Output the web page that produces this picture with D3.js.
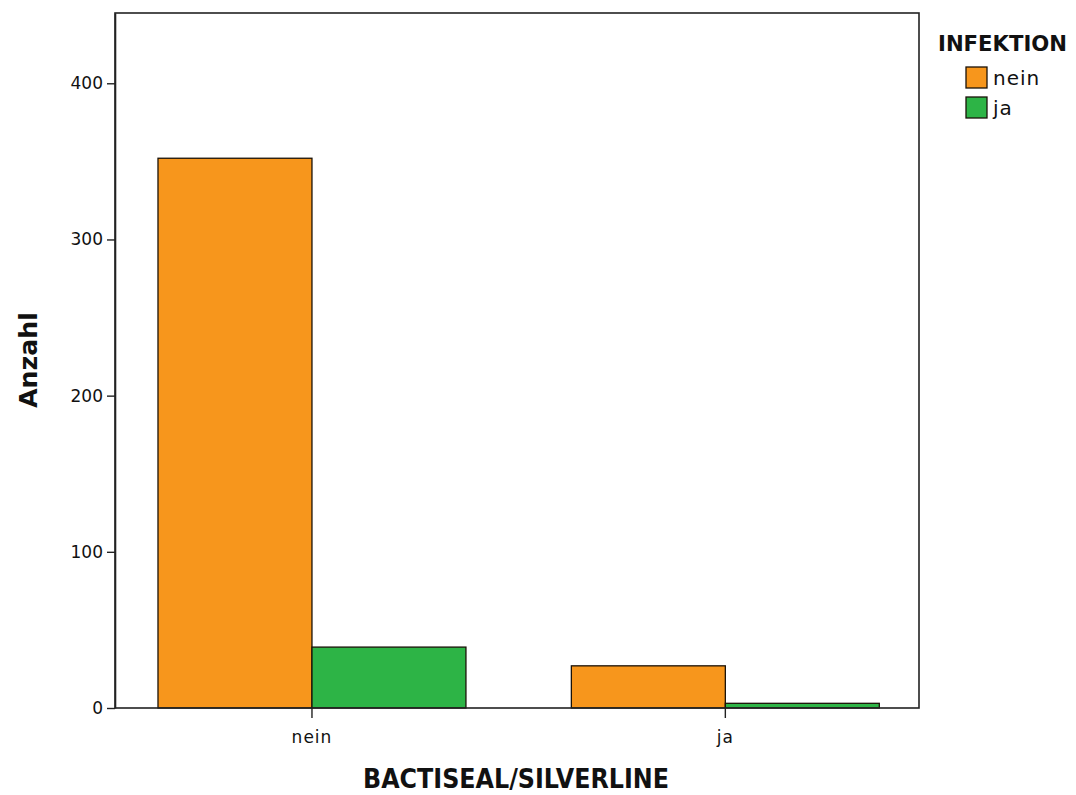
<!DOCTYPE html>
<html>
<head>
<meta charset="utf-8">
<script src="https://cdn.jsdelivr.net/npm/d3@7/dist/d3.min.js"></script>
<style>
  html, body { margin: 0; padding: 0; background: #fff; }
  svg { display: block; }
</style>
</head>
<body>
<svg id="chart" width="1076" height="795"></svg>
<script>
// Categories on the x axis (BACTISEAL/SILVERLINE) and the grouping (INFEKTION)
const categories = ["nein", "ja"];
const groups = ["nein", "ja"];
// Counts per category, one array per infection group
const countsInfektionNein = [352, 27];
const countsInfektionJa = [39, 3];
const yTicks = [0, 100, 200, 300, 400];
const groupColors = ["#F7961C", "#2DB446"];

const svg = d3.select("#chart");
const frame = { left: 115, right: 919, top: 13, bottom: 708 };

const x = d3.scaleBand()
  .domain(categories)
  .range([frame.left, frame.right])
  .paddingInner(0.255)
  .paddingOuter(0.1)
  .align(0.52);

const xSub = d3.scaleBand()
  .domain(groups)
  .range([0, x.bandwidth()]);

const y = d3.scaleLinear()
  .domain([0, 445])
  .range([frame.bottom, frame.top]);

const table = categories.map((c, i) => ({
  category: c,
  values: [countsInfektionNein[i], countsInfektionJa[i]]
}));

const font = "'DejaVu Sans', 'Open Sans', sans-serif";

// Bars
const g = svg.append("g");
table.forEach(row => {
  row.values.forEach((v, j) => {
    g.append("rect")
      .attr("x", x(row.category) + xSub(groups[j]))
      .attr("y", y(v))
      .attr("width", xSub.bandwidth())
      .attr("height", y(0) - y(v))
      .attr("fill", groupColors[j])
      .attr("stroke", "#1a1208")
      .attr("stroke-width", 1.3);
  });
});

// Plot frame
svg.append("rect")
  .attr("x", frame.left)
  .attr("y", frame.top)
  .attr("width", frame.right - frame.left)
  .attr("height", frame.bottom - frame.top)
  .attr("fill", "none")
  .attr("stroke", "#222")
  .attr("stroke-width", 1.6);

// Y axis
const yAxis = svg.append("g")
  .attr("transform", `translate(${frame.left},0)`)
  .call(d3.axisLeft(y).tickValues(yTicks).tickSizeInner(8).tickSizeOuter(0)
    .tickPadding(4).tickFormat(d3.format("d")));
yAxis.select(".domain").attr("stroke", "#222").attr("stroke-width", 1.6);
yAxis.selectAll(".tick line").attr("stroke", "#222").attr("stroke-width", 1.4);
yAxis.selectAll(".tick text").attr("font-family", font).attr("font-size", 17).attr("fill", "#111");

// X axis
const xAxis = svg.append("g")
  .attr("transform", `translate(0,${frame.bottom})`)
  .call(d3.axisBottom(x).tickSizeInner(10).tickSizeOuter(0).tickPadding(13));
xAxis.select(".domain").remove();
xAxis.selectAll(".tick line").attr("stroke", "#222").attr("stroke-width", 1.4);
xAxis.selectAll(".tick text").attr("font-family", font).attr("font-size", 17)
  .attr("letter-spacing", 1).attr("fill", "#111");

// Axis titles
svg.append("text")
  .attr("x", 516)
  .attr("y", 788)
  .attr("text-anchor", "middle")
  .attr("font-family", font)
  .attr("font-weight", "bold")
  .attr("font-size", 26)
  .attr("textLength", 306)
  .attr("lengthAdjust", "spacingAndGlyphs")
  .attr("fill", "#111")
  .text("BACTISEAL/SILVERLINE");

svg.append("text")
  .attr("transform", "translate(37,360) rotate(-90)")
  .attr("text-anchor", "middle")
  .attr("font-family", font)
  .attr("font-weight", "bold")
  .attr("font-size", 25)
  .attr("textLength", 96)
  .attr("lengthAdjust", "spacingAndGlyphs")
  .attr("fill", "#111")
  .text("Anzahl");

// Legend
const legend = svg.append("g");
legend.append("text")
  .attr("x", 938)
  .attr("y", 51)
  .attr("font-family", font)
  .attr("font-weight", "bold")
  .attr("font-size", 22)
  .attr("textLength", 129)
  .attr("lengthAdjust", "spacingAndGlyphs")
  .attr("fill", "#111")
  .text("INFEKTION");

groups.forEach((grp, j) => {
  const yy = 67 + j * 30;
  legend.append("rect")
    .attr("x", 966)
    .attr("y", yy)
    .attr("width", 21)
    .attr("height", 21)
    .attr("fill", groupColors[j])
    .attr("stroke", "#1a1208")
    .attr("stroke-width", 1.3);
  legend.append("text")
    .attr("x", 993)
    .attr("y", yy + 18)
    .attr("font-family", font)
    .attr("font-size", 20)
    .attr("letter-spacing", 1)
    .attr("fill", "#111")
    .text(grp);
});
</script>
</body>
</html>
